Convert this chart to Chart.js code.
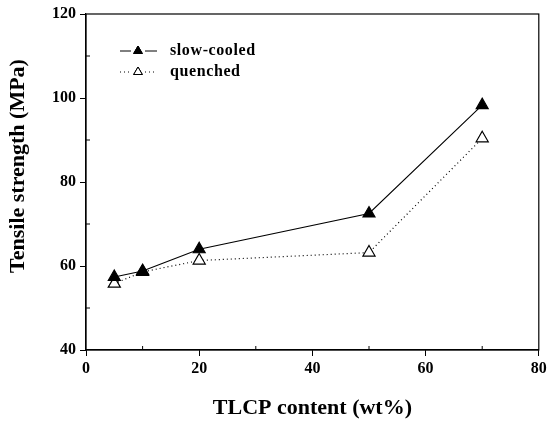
<!DOCTYPE html>
<html>
<head>
<meta charset="utf-8">
<script src="https://cdn.jsdelivr.net/npm/chart.js@4/dist/chart.umd.min.js"></script>
<style>
  html, body { margin: 0; padding: 0; background: #fff; }
  #wrap { width: 547px; height: 423px; }
</style>
</head>
<body>
<div id="wrap"><canvas id="chart" width="547" height="423"></canvas></div>
<script>
const tlcpContent = [5, 10, 20, 50, 70];
const slowCooled = [57.4, 58.8, 64.0, 72.5, 98.3];
const quenched = [55.8, 58.6, 61.3, 63.2, 90.4];
const xTicks = [0, 20, 40, 60, 80];
const yTicks = [40, 60, 80, 100, 120];
const yTitle = "Tensile strength (MPa)";

const serif = "'Liberation Serif', 'DejaVu Serif', serif";

function points(values) {
  return tlcpContent.map((x, i) => ({ x, y: values[i] }));
}

// box frame, inward minor ticks, y title and the legend inside the plot
const decorations = {
  id: "decorations",
  afterDraw(chart) {
    const { ctx, chartArea: area, scales } = chart;
    ctx.save();
    ctx.strokeStyle = "#000";
    ctx.lineWidth = 1.2;
    ctx.strokeRect(area.left, area.top, area.right - area.left, area.bottom - area.top);

    ctx.lineWidth = 1;
    ctx.beginPath();
    for (let v = 10; v < 80; v += 20) {
      const px = scales.x.getPixelForValue(v);
      ctx.moveTo(px, area.bottom);
      ctx.lineTo(px, area.bottom - 4);
    }
    for (let v = 50; v < 120; v += 20) {
      const py = scales.y.getPixelForValue(v);
      ctx.moveTo(area.left, py);
      ctx.lineTo(area.left + 4, py);
    }
    ctx.stroke();

    ctx.save();
    ctx.translate(18, 166);
    ctx.rotate(-Math.PI / 2);
    ctx.fillStyle = "#000";
    ctx.font = "bold 22px " + serif;
    ctx.textAlign = "center";
    ctx.textBaseline = "middle";
    ctx.fillText(yTitle, 0, 0);
    ctx.restore();

    const rows = [
      { y: 51, ds: chart.data.datasets[0] },
      { y: 72, ds: chart.data.datasets[1] },
    ];
    rows.forEach((row) => {
      ctx.strokeStyle = "#000";
      ctx.lineWidth = 1;
      ctx.setLineDash(row.ds.borderDash || []);
      ctx.beginPath();
      ctx.moveTo(120, row.y);
      ctx.lineTo(131, row.y);
      ctx.moveTo(145, row.y);
      ctx.lineTo(157, row.y);
      ctx.stroke();
      ctx.setLineDash([]);
      Chart.helpers.drawPoint(ctx, {
        pointStyle: "triangle",
        radius: 5,
        borderWidth: 1,
        rotation: 0,
      }, 138, row.y);
      ctx.fillStyle = row.ds.pointBackgroundColor;
      ctx.fill();
      ctx.stroke();
      ctx.fillStyle = "#000";
      ctx.font = "bold 16px " + serif;
      ctx.letterSpacing = "0.6px";
      ctx.textBaseline = "middle";
      ctx.textAlign = "left";
      ctx.fillText(row.ds.label, 170, row.y);
      ctx.letterSpacing = "0px";
    });
    ctx.restore();
  },
};

new Chart(document.getElementById("chart"), {
  type: "line",
  data: {
    datasets: [
      {
        label: "slow-cooled",
        data: points(slowCooled),
        borderColor: "#000",
        borderWidth: 1.1,
        pointStyle: "triangle",
        pointRadius: 7,
        pointBackgroundColor: "#000",
        pointBorderColor: "#000",
        tension: 0,
      },
      {
        label: "quenched",
        data: points(quenched),
        borderColor: "#000",
        borderWidth: 1.2,
        borderDash: [1, 3],
        pointStyle: "triangle",
        pointRadius: 7,
        pointBackgroundColor: "#fff",
        pointBorderColor: "#000",
        pointBorderWidth: 1.2,
        tension: 0,
      },
    ],
  },
  options: {
    responsive: false,
    animation: false,
    layout: { padding: { top: 14, right: 6, left: 0, bottom: 0 } },
    plugins: {
      legend: { display: false },
      tooltip: { enabled: false },
    },
    scales: {
      x: {
        type: "linear",
        min: 0,
        max: 80,
        afterBuildTicks(scale) {
          scale.ticks = xTicks.map((value) => ({ value }));
        },
        afterFit(scale) {
          scale.height = 73;
          scale.paddingLeft = 0;
          scale.paddingRight = 0;
        },
        border: { display: true, color: "#000", width: 1.2 },
        grid: { drawOnChartArea: false, drawTicks: true, tickLength: 6, color: "#000" },
        ticks: {
          color: "#000",
          font: { family: serif, weight: "bold", size: 16 },
          padding: 3,
          maxRotation: 0,
        },
        title: {
          display: true,
          text: "TLCP content (wt%)",
          color: "#000",
          font: { family: serif, weight: "bold", size: 22 },
          padding: { top: 19, bottom: 1 },
        },
      },
      y: {
        min: 40,
        max: 120,
        afterBuildTicks(scale) {
          scale.ticks = yTicks.map((value) => ({ value }));
        },
        afterFit(scale) {
          scale.width = 86;
        },
        border: { display: true, color: "#000", width: 1.2 },
        grid: { drawOnChartArea: false, drawTicks: true, tickLength: 6, color: "#000" },
        ticks: {
          color: "#000",
          font: { family: serif, weight: "bold", size: 16 },
          padding: 4,
        },
      },
    },
  },
  plugins: [decorations],
});
</script>
</body>
</html>
